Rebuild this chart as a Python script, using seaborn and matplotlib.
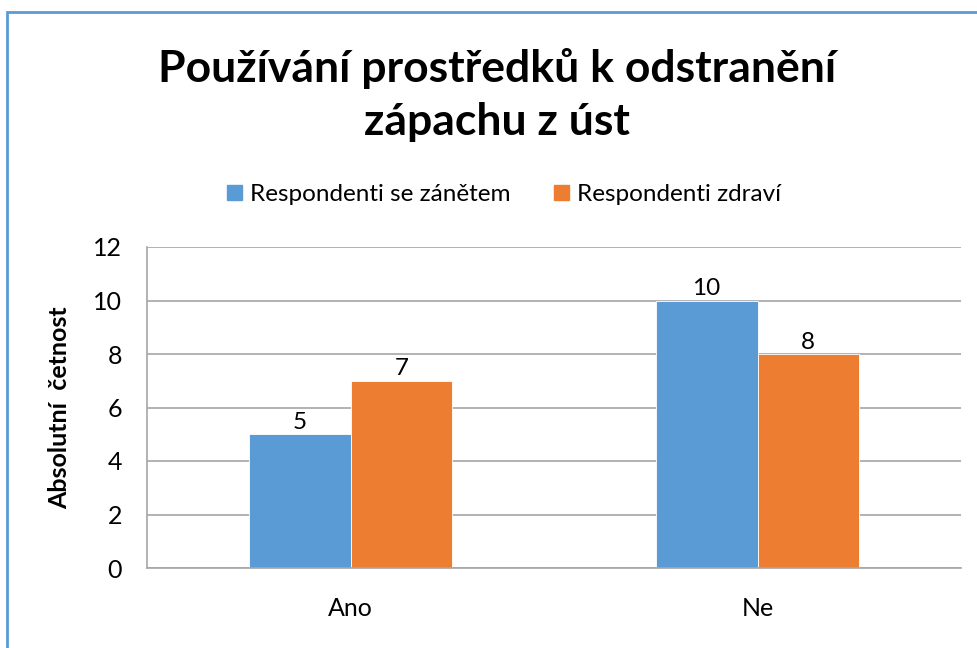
import pandas as pd
import seaborn as sns
import matplotlib.pyplot as plt
from matplotlib.patches import Rectangle, Patch

kategorie = ["Ano", "Ne"]
skupiny = ["Respondenti se zánětem", "Respondenti zdraví"]
se_zanetem = [5, 10]
zdravi = [7, 8]
barvy = ["#5B9BD5", "#ED7D31"]

df = pd.DataFrame({
    "kategorie": kategorie * 2,
    "skupina": [skupiny[0]] * 2 + [skupiny[1]] * 2,
    "pocet": se_zanetem + zdravi,
})

sns.set_style("white")
plt.rcParams["font.family"] = ["Lato", "DejaVu Sans"]
plt.rcParams["text.color"] = "black"
plt.rcParams["axes.labelcolor"] = "black"
plt.rcParams["xtick.color"] = "black"
plt.rcParams["ytick.color"] = "black"

fig = plt.figure(figsize=(9.77, 6.48), dpi=100)
ax = fig.add_axes([147 / 977, 80 / 648, 814 / 977, 321 / 648])

sns.barplot(data=df, x="kategorie", y="pocet", hue="skupina", palette=barvy,
            width=0.5, gap=0, saturation=1, ax=ax, legend=False)

for cont in ax.containers:
    for b in cont:
        b.set_edgecolor("white")
        b.set_linewidth(0.6)
    ax.bar_label(cont, fontsize=17.5, padding=1)

ax.set_ylim(0, 12)
ax.set_xlim(-0.5, 1.5)
ax.set_yticks(range(0, 13, 2))
ax.yaxis.grid(True, color="#A6A6A6", linewidth=1.2)
ax.set_axisbelow(True)
for s in ["top", "right"]:
    ax.spines[s].set_visible(False)
for s in ["left", "bottom"]:
    ax.spines[s].set_color("#A6A6A6")
    ax.spines[s].set_linewidth(1.2)
ax.tick_params(axis="both", length=0, labelsize=18)
ax.tick_params(axis="y", pad=18)
ax.tick_params(axis="x", pad=21)
ax.set_xlabel("")
ax.set_ylabel("Absolutní  četnost", fontsize=18, fontweight="bold", labelpad=16)

fig.text(0.509, 0.853, "Používání prostředků k odstranění\nzápachu z úst",
         ha="center", va="center", fontsize=32, fontweight="bold",
         linespacing=1.38)

handles = [Patch(color=c) for c in barvy]
fig.legend(handles, skupiny, loc="center", bbox_to_anchor=(0.516, 0.70),
           ncol=2, frameon=False, fontsize=17.5, handlelength=0.6,
           handleheight=0.6, handletextpad=0.35, columnspacing=1.8)

fig.patches.append(Rectangle((7 / 977, -0.1), 1.1, (648 - 12) / 648 + 0.1,
                             transform=fig.transFigure, fill=False,
                             edgecolor="#5B9BD5", linewidth=2))

plt.savefig("out.png", dpi=100)
